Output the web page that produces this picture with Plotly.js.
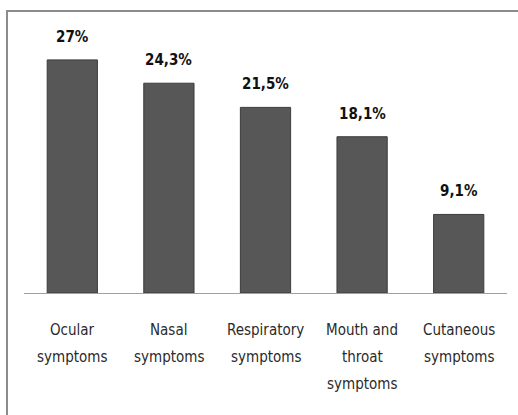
<!DOCTYPE html>
<html>
<head>
<meta charset="utf-8">
<script src="https://cdn.plot.ly/plotly-3.0.1.min.js"></script>
<style>
  html, body { margin: 0; padding: 0; background: #fff; overflow: hidden; }
  #frame { position: absolute; left: 6px; top: 10px; width: 512px; height: 405px; border-left: 2px solid #8c8c8c; border-top: 2px solid #8c8c8c; box-sizing: border-box; pointer-events: none; }
  #chart { position: absolute; left: 0; top: 0; width: 518px; height: 415px; }
</style>
</head>
<body>
<div id="chart"></div>
<div id="frame"></div>
<script>
const categories = ["Ocular symptoms", "Nasal symptoms", "Respiratory symptoms", "Mouth and throat symptoms", "Cutaneous symptoms"];
const categoryLines = [["Ocular", "symptoms"], ["Nasal", "symptoms"], ["Respiratory", "symptoms"], ["Mouth and", "throat", "symptoms"], ["Cutaneous", "symptoms"]];
const values = [27, 24.3, 21.5, 18.1, 9.1];
const valueLabels = values.map(v => String(v).replace('.', ',') + '%');

const labelFont = "'Liberation Sans Narrow', 'DejaVu Sans Condensed', 'DejaVu Sans', sans-serif";

const annotations = [];
values.forEach((v, i) => {
  annotations.push({
    x: categories[i], y: v, xref: 'x', yref: 'y',
    text: '<b>' + valueLabels[i] + '</b>', showarrow: false,
    yanchor: 'middle', yshift: 23,
    font: { family: labelFont, size: 15, color: '#111' }
  });
});
categoryLines.forEach((lines, i) => {
  lines.forEach((ln, j) => {
    annotations.push({
      x: categories[i], y: 0, xref: 'x', yref: 'y',
      text: ln, showarrow: false,
      yanchor: 'middle', yshift: -(37 + 27 * j),
      font: { family: labelFont, size: 15, color: '#2a2a2a' }
    });
  });
});

Plotly.newPlot('chart', [{
  type: 'bar',
  x: categories,
  y: values,
  width: 0.52,
  marker: { color: '#575757', line: { color: '#3c3c3c', width: 1 } },
  hoverinfo: 'none'
}], {
  width: 518, height: 415,
  margin: { l: 24, r: 11, t: 34, b: 122 },
  paper_bgcolor: '#fff', plot_bgcolor: '#fff',
  showlegend: false,
  xaxis: {
    type: 'category', showticklabels: false, ticks: '',
    showline: true, linecolor: '#a0a0a0', linewidth: 1,
    showgrid: false, zeroline: false, fixedrange: true
  },
  yaxis: {
    range: [0, 30], visible: false, showgrid: false, zeroline: false, fixedrange: true
  },
  annotations: annotations
}, { displayModeBar: false, staticPlot: true });
</script>
</body>
</html>
